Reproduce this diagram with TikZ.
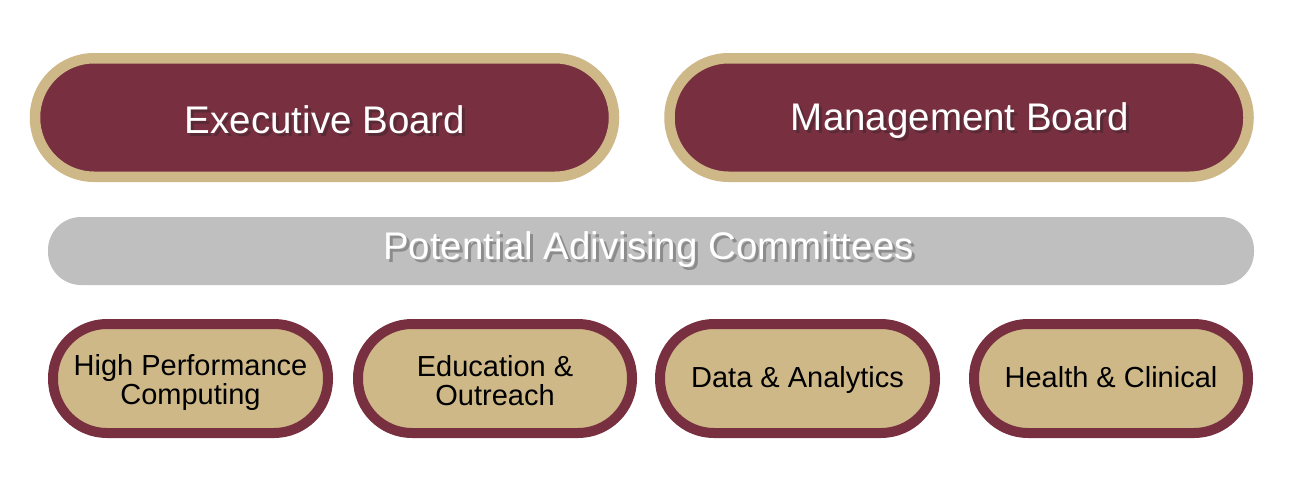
\documentclass[tikz,border=0pt]{standalone}
\usepackage{fontspec}
\setmainfont{Liberation Sans}
\definecolor{garnet}{RGB}{120,47,64}
\definecolor{gold}{RGB}{206,184,136}
\definecolor{barg}{RGB}{191,191,191}
\definecolor{shmar}{RGB}{88,42,54}
\definecolor{shgrey}{RGB}{140,140,140}
\newcommand\shadowed[2]{\makebox[0pt][l]{\kern3pt\raisebox{-3pt}{\textcolor{#1}{#2}}}#2}
\tikzset{
  board/.style={draw=gold, fill=garnet, line width=10.5pt, rounded corners=59pt,
    minimum width=579pt, minimum height=118.5pt, inner sep=0pt},
  committee/.style={draw=garnet, fill=gold, line width=10pt, rounded corners=54pt,
    minimum height=109pt, inner sep=0pt},
  bar/.style={fill=barg, rounded corners=33pt, minimum width=1206pt, minimum height=68pt, inner sep=0pt},
  bigtext/.style={text=white, font=\fontsize{38.5}{46}\selectfont, inner sep=0pt, anchor=base},
  smalltext/.style={text=black, font=\fontsize{29}{29}\selectfont, inner sep=0pt, align=center}
}
\begin{document}
\begin{tikzpicture}[x=1pt,y=-1pt]
\useasboundingbox[fill=white] (0,0) rectangle (1294,499);
% top boards
\node[board] (exec) at (324.5,117.5) {};
\node[board] (mgmt) at (959,117.5) {};
\node[bigtext] (exect) at (325,133) {\shadowed{shmar}{Executive Board}};
\node[bigtext] (mgmtt) at (960,130) {\shadowed{shmar}{Management Board}};
% bar
\node[bar] (adv) at (651,251) {};
\node[bigtext] (advt) at (648.5,259) {\shadowed{shgrey}{Potential Adivising Committees}};
% committees
\node[committee, minimum width=275pt] (hpc) at (190.5,378.5) {};
\node[committee, minimum width=274pt] (edu) at (495,378.5) {};
\node[committee, minimum width=275pt] (data) at (797.5,378.5) {};
\node[committee, minimum width=274pt] (health) at (1111,378.5) {};
\node[smalltext] (hpct) at (190.5,382) {High Performance\\Computing};
\node[smalltext] (edut) at (495,381) {Education \&\\Outreach};
\node[smalltext, anchor=base] (datat) at (797.5,387) {Data \& Analytics};
\node[smalltext, anchor=base] (healtht) at (1111,387) {Health \& Clinical};
\end{tikzpicture}
\end{document}
